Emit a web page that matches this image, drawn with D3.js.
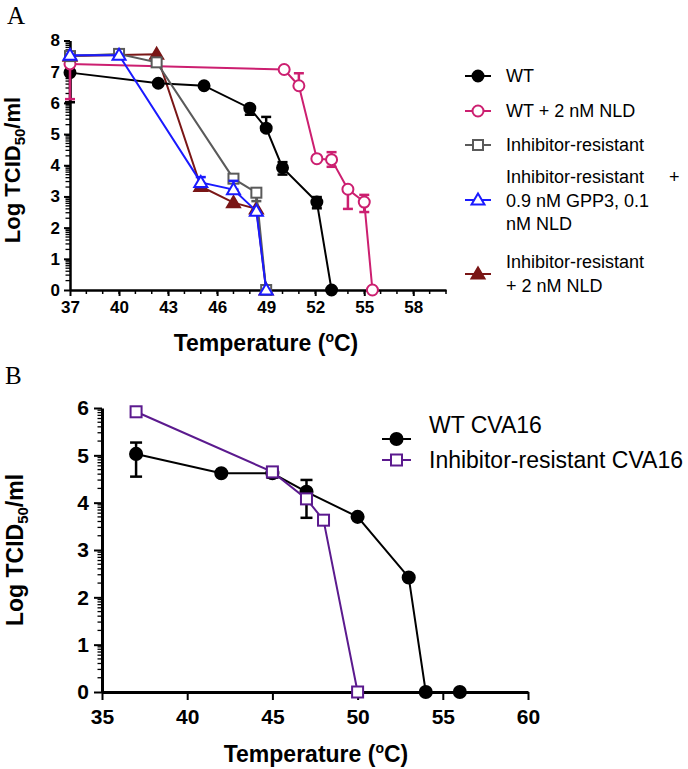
<!DOCTYPE html>
<html>
<head>
<meta charset="utf-8">
<script src="https://cdnjs.cloudflare.com/ajax/libs/d3/7.8.5/d3.min.js"></script>
<style>
  body { margin: 0; background: #fff; }
  svg { display: block; }
  text { white-space: pre; }
</style>
</head>
<body>
<svg width="688" height="769"></svg>
<script>
// ---- Panel A data (temperature in C, log TCID50/ml) ----
const aTicksX = [37, 40, 43, 46, 49, 52, 55, 58];
const aTicksY = [0, 1, 2, 3, 4, 5, 6, 7, 8];

const aWTx = [37, 42.4, 45.2, 48, 49, 50, 52.1, 53];
const aWTy = [6.97, 6.63, 6.55, 5.83, 5.19, 3.92, 2.82, 0];
const aWTlo = [6.02, null, null, 5.62, 5.19, 3.7, 2.62, null];
const aWThi = [7.35, null, null, 5.83, 5.55, 4.1, 2.98, null];

const aNLDx = [37, 50.1, 51, 52.1, 53, 54, 55, 55.5];
const aNLDy = [7.25, 7.07, 6.55, 4.21, 4.18, 3.23, 2.82, 0];
const aNLDlo = [6.12, null, 6.55, null, 3.95, 2.6, 2.5, null];
const aNLDhi = [7.25, null, 6.95, null, 4.42, 3.23, 3.05, null];

const aResx = [37, 40, 42.3, 47, 48.4, 49];
const aResy = [7.5, 7.57, 7.3, 3.57, 3.12, 0];
const aReslo = [null, null, null, null, 2.85, null];
const aReshi = [null, null, null, null, 3.12, null];

const aGPPx = [37, 40, 45, 47, 48.4, 49];
const aGPPy = [7.53, 7.53, 3.45, 3.22, 2.53, 0];
const aGPPlo = [null, null, 3.3, 3.22, null, null];
const aGPPhi = [null, null, 3.62, 3.5, null, null];

const aResNLDx = [37, 42.3, 45, 47, 48.4, 49];
const aResNLDy = [7.5, 7.56, 3.32, 2.8, 2.6, 0];

// ---- Panel B data ----
const bTicksX = [35, 40, 45, 50, 55, 60];
const bTicksY = [0, 1, 2, 3, 4, 5, 6];

const bWTx = [37, 42, 45, 47, 50, 53, 54, 56];
const bWTy = [5.03, 4.62, 4.62, 4.23, 3.7, 2.42, 0, 0];
const bWTlo = [4.55, null, 4.53, 3.68, null, null, null, null];
const bWThi = [5.27, null, 4.7, 4.48, null, null, null, null];

const bResx = [37, 45, 47, 48, 50];
const bResy = [5.92, 4.65, 4.08, 3.63, 0];

const svg = d3.select("svg");
const FONT = "'Liberation Sans', Arial, sans-serif";

function makeSeries(xs, ys, lo, hi) {
    return xs.map((x, i) => ({x: x, y: ys[i], lo: lo ? lo[i] : null, hi: hi ? hi[i] : null}));
}

function drawMarker(g, kind, color, cx, cy, sz) {
    if (kind == "circle" || kind == "ocircle") {
        g.append("circle").attr("cx", cx).attr("cy", cy).attr("r", sz * 0.55)
            .attr("fill", kind == "circle" ? color : "#fff")
            .attr("stroke", color).attr("stroke-width", 2);
    } else if (kind == "osquare") {
        g.append("rect").attr("x", cx - sz / 2).attr("y", cy - sz / 2).attr("width", sz).attr("height", sz)
            .attr("fill", "#fff").attr("stroke", color).attr("stroke-width", 2);
    } else {
        // triangle
        let s = sz * 0.65;
        g.append("path")
            .attr("d", "M" + cx + "," + (cy - s) + "L" + (cx + s) + "," + (cy + s * 0.7) + "L" + (cx - s) + "," + (cy + s * 0.7) + "Z")
            .attr("fill", kind == "triangle" ? color : "#fff")
            .attr("stroke", color).attr("stroke-width", 2).attr("stroke-linejoin", "miter");
    }
}

function drawPanel(opt) {
    let x = d3.scaleLinear().domain(opt.xDomain).range(opt.xRange);
    let y = d3.scaleLinear().domain(opt.yDomain).range(opt.yRange);
    let g = svg.append("g");
    let x0 = x(opt.xDomain[0]);

    // minor y ticks (log-style, GraphPad)
    let minorY = [];
    for (let n = opt.yDomain[0]; n < opt.yDomain[1]; n++) {
        for (let k = 2; k <= 9; k++) minorY.push(n + Math.log10(k));
    }
    g.selectAll(".minY").data(minorY).enter().append("line")
        .attr("x1", x0).attr("x2", x0 - 4.5)
        .attr("y1", d => y(d)).attr("y2", d => y(d))
        .attr("stroke", "#000").attr("stroke-width", 1.3);

    if (opt.minorX) {
        g.selectAll(".minX").data(opt.minorX).enter().append("line")
            .attr("x1", d => x(d)).attr("x2", d => x(d))
            .attr("y1", y(0)).attr("y2", y(0) + 4)
            .attr("stroke", "#000").attr("stroke-width", 1.5);
    }

    // axes
    let yAxis = d3.axisLeft(y).tickValues(opt.yTicks).tickFormat(d3.format("d"))
        .tickSize(opt.tickLen).tickPadding(opt.yPad).tickSizeOuter(0);
    let xAxis = d3.axisBottom(x).tickValues(opt.xTicks).tickFormat(d3.format("d"))
        .tickSize(opt.tickLen).tickPadding(opt.xPad).tickSizeOuter(0);
    let ya = g.append("g").attr("transform", "translate(" + x0 + ",0)").call(yAxis);
    let xa = g.append("g").attr("transform", "translate(0," + y(0) + ")").call(xAxis);
    [ya, xa].forEach(a => {
        a.select(".domain").attr("stroke-width", opt.axisW);
        a.selectAll(".tick line").attr("stroke-width", 2);
        a.selectAll("text").attr("font-family", FONT).attr("font-size", opt.tickFont)
            .attr("font-weight", "bold").attr("fill", "#000");
    });

    // series
    opt.series.forEach(s => {
        let data = s.data;
        let line = d3.line().x(d => x(d.x)).y(d => y(d.y));
        g.append("path").datum(data).attr("d", line)
            .attr("fill", "none").attr("stroke", s.color).attr("stroke-width", 2);
        data.forEach(d => {
            if (d.lo != null && d.hi != null) {
                g.append("line").attr("x1", x(d.x)).attr("x2", x(d.x))
                    .attr("y1", y(d.lo)).attr("y2", y(d.hi))
                    .attr("stroke", s.color).attr("stroke-width", 2.5);
                [d.lo, d.hi].forEach(v => {
                    g.append("line").attr("x1", x(d.x) - opt.cap).attr("x2", x(d.x) + opt.cap)
                        .attr("y1", y(v)).attr("y2", y(v))
                        .attr("stroke", s.color).attr("stroke-width", 2.5);
                });
            }
        });
        data.forEach(d => drawMarker(g, s.marker, s.color, x(d.x), y(d.y), opt.mk));
    });

    // legend
    opt.series.forEach(s => {
        let lg = g.append("g");
        lg.append("line").attr("x1", opt.legX).attr("x2", opt.legX + opt.legW)
            .attr("y1", s.legY).attr("y2", s.legY)
            .attr("stroke", s.color).attr("stroke-width", 2);
        drawMarker(lg, s.marker, s.color, opt.legX + opt.legW / 2, s.legY, opt.mk);
        s.label.forEach((t, i) => {
            lg.append("text").attr("x", opt.legTextX).attr("y", s.labelY + i * opt.legLine)
                .attr("font-family", FONT).attr("font-size", opt.legFont).attr("fill", "#000")
                .text(t);
        });
    });

    // axis titles
    let xt = g.append("text").attr("x", opt.xTitle[0]).attr("y", opt.xTitle[1])
        .attr("text-anchor", "middle").attr("font-family", FONT)
        .attr("font-size", opt.titleFont).attr("font-weight", "bold");
    xt.append("tspan").text("Temperature (");
    xt.append("tspan").attr("font-size", "14px").attr("dy", -9).text("o");
    xt.append("tspan").attr("dy", 9).text("C)");

    let yt = g.append("text")
        .attr("transform", "translate(" + opt.yTitle[0] + "," + opt.yTitle[1] + ") rotate(-90)")
        .attr("text-anchor", "middle").attr("font-family", FONT)
        .attr("font-size", opt.yTitleFont).attr("font-weight", "bold");
    yt.append("tspan").text("Log TCID");
    yt.append("tspan").attr("font-size", "15px").attr("dy", 5).text("50");
    yt.append("tspan").attr("dy", -5).text("/ml");

    svg.append("text").attr("x", opt.letter[0]).attr("y", opt.letter[1])
        .attr("font-family", "'Liberation Serif', 'Times New Roman', serif")
        .attr("font-size", "25px").text(opt.letter[2]);
}

drawPanel({
    xDomain: [37, 60], xRange: [70, 446],
    yDomain: [0, 8], yRange: [290, 40.5],
    xTicks: aTicksX, yTicks: aTicksY,
    minorX: d3.range(38, 61),
    tickFont: "17px", titleFont: "23px", yTitleFont: "22px",
    tickLen: 6, xPad: 5, yPad: 4, axisW: 2.5, cap: 5, mk: 10,
    legX: 465, legW: 26, legTextX: 506, legLine: 23.5, legFont: "18px",
    xTitle: [266, 351], yTitle: [20, 170],
    letter: [7, 24, "A"],
    series: [
        {data: makeSeries(aResNLDx, aResNLDy), color: "#7a1616", marker: "triangle", legY: 274, labelY: 268, label: ["Inhibitor-resistant", "+ 2 nM NLD"]},
        {data: makeSeries(aWTx, aWTy, aWTlo, aWThi), color: "#000", marker: "circle", legY: 76, labelY: 82, label: ["WT"]},
        {data: makeSeries(aNLDx, aNLDy, aNLDlo, aNLDhi), color: "#cc1f70", marker: "ocircle", legY: 111, labelY: 117, label: ["WT + 2 nM NLD"]},
        {data: makeSeries(aResx, aResy, aReslo, aReshi), color: "#5a5a5a", marker: "osquare", legY: 145, labelY: 151, label: ["Inhibitor-resistant"]},
        {data: makeSeries(aGPPx, aGPPy, aGPPlo, aGPPhi), color: "#1a1aff", marker: "otriangle", legY: 200, labelY: 183, label: ["Inhibitor-resistant     +", "0.9 nM GPP3, 0.1", "nM NLD"]}
    ]
});

drawPanel({
    xDomain: [35, 60], xRange: [102, 528],
    yDomain: [0, 6], yRange: [692, 408],
    xTicks: bTicksX, yTicks: bTicksY,
    minorX: null,
    tickFont: "21px", titleFont: "23px", yTitleFont: "23px",
    tickLen: 8, xPad: 9, yPad: 5, axisW: 3, cap: 6, mk: 11,
    legX: 382, legW: 29, legTextX: 429, legLine: 24, legFont: "23px",
    xTitle: [316, 762], yTitle: [23, 550],
    letter: [5, 384, "B"],
    series: [
        {data: makeSeries(bWTx, bWTy, bWTlo, bWThi), color: "#000", marker: "circle", legY: 439, labelY: 433, label: ["WT CVA16"]},
        {data: makeSeries(bResx, bResy), color: "#5b1a8e", marker: "osquare", legY: 460, labelY: 468, label: ["Inhibitor-resistant CVA16"]}
    ]
});
</script>
</body>
</html>
